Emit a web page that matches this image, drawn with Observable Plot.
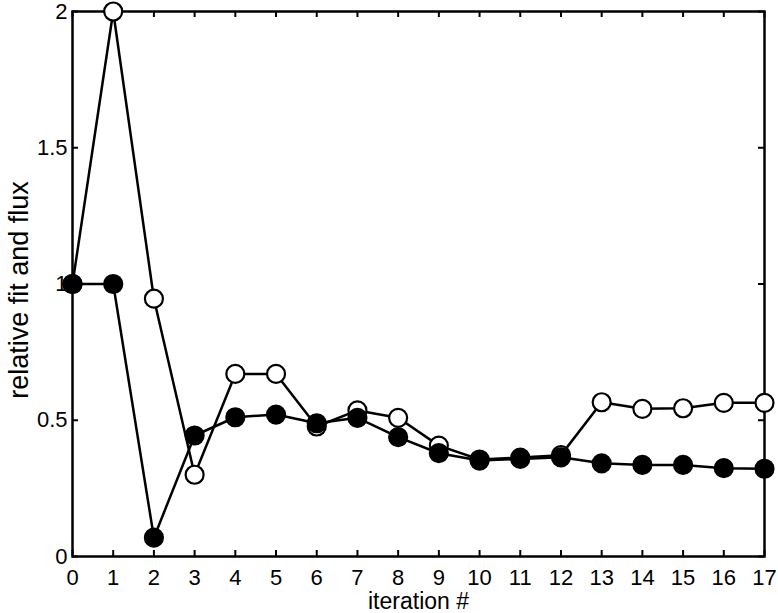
<!DOCTYPE html>
<html>
<head>
<meta charset="utf-8">
<script src="https://cdn.jsdelivr.net/npm/d3@7"></script>
<script src="https://cdn.jsdelivr.net/npm/@observablehq/plot@0.6"></script>
<style>
  html, body { margin: 0; padding: 0; background: #fff; }
  #chart { width: 778px; height: 613px; }
</style>
</head>
<body>
<div id="chart"></div>
<script>
// ---- data ----
const iterations = [0, 1, 2, 3, 4, 5, 6, 7, 8, 9, 10, 11, 12, 13, 14, 15, 16, 17];
const openSeries = [1.0, 2.0, 0.946, 0.30, 0.670, 0.670, 0.477, 0.536, 0.509, 0.407, 0.356, 0.363, 0.372, 0.566, 0.542, 0.544, 0.564, 0.564];
const filledSeries = [1.0, 1.0, 0.069, 0.444, 0.511, 0.521, 0.489, 0.509, 0.438, 0.379, 0.352, 0.358, 0.364, 0.342, 0.336, 0.336, 0.324, 0.322];
const xTicks = [0, 1, 2, 3, 4, 5, 6, 7, 8, 9, 10, 11, 12, 13, 14, 15, 16, 17];
const yTicks = [0, 0.5, 1, 1.5, 2];
const yTickLabels = ["0", "0.5", "1", "1.5", "2"];
const xLabel = "iteration #";
const yLabel = "relative fit and flux";

const openData = iterations.map((it, i) => ({x: it, y: openSeries[i]}));
const filledData = iterations.map((it, i) => ({x: it, y: filledSeries[i]}));

const W = 778, H = 613;
const mL = 72, mR = 14, mT = 11, mB = 57;
const plotW = W - mL - mR, plotH = H - mT - mB;
const tickLen = 6;

const chart = Plot.plot({
  width: W,
  height: H,
  marginLeft: mL,
  marginRight: mR,
  marginTop: mT,
  marginBottom: mB,
  style: {fontFamily: "'Liberation Sans', Arial, Helvetica, sans-serif", color: "#000", background: "#fff"},
  x: {domain: [0, 17]},
  y: {domain: [0, 2]},
  marks: [
    Plot.axisX(xTicks, {tickSize: 0, tickPadding: 13, fontSize: 22, tickFormat: d => String(d), label: null}),
    Plot.axisY(yTicks, {tickSize: 0, tickPadding: 5, fontSize: 22, tickFormat: (d, i) => yTickLabels[i], label: null}),
    // inward ticks on all four sides
    Plot.tickX(xTicks, {x: d => d, stroke: "#000", strokeWidth: 2, insetTop: plotH - tickLen}),
    Plot.tickX(xTicks, {x: d => d, stroke: "#000", strokeWidth: 2, insetBottom: plotH - tickLen}),
    Plot.tickY(yTicks, {y: d => d, stroke: "#000", strokeWidth: 2, insetRight: plotW - tickLen}),
    Plot.tickY(yTicks, {y: d => d, stroke: "#000", strokeWidth: 2, insetLeft: plotW - tickLen}),
    Plot.frame({stroke: "#000", strokeWidth: 2.5}),
    // open series
    Plot.line(openData, {x: "x", y: "y", stroke: "#000", strokeWidth: 2.5}),
    Plot.dot(openData, {x: "x", y: "y", r: 9, fill: "#fff", stroke: "#000", strokeWidth: 2.2}),
    // filled series
    Plot.line(filledData, {x: "x", y: "y", stroke: "#000", strokeWidth: 2.5}),
    Plot.dot(filledData, {x: "x", y: "y", r: 9, fill: "#000", stroke: "#000", strokeWidth: 2.2}),
    // axis titles
    Plot.text([xLabel], {text: d => d, frameAnchor: "bottom", dy: 45, lineAnchor: "middle", fontSize: 23, fill: "#000"}),
    Plot.text([yLabel], {text: d => d, frameAnchor: "left", textAnchor: "middle", dx: -53, dy: 6, rotate: -90, lineAnchor: "middle", fontSize: 27, fill: "#000"})
  ]
});

document.getElementById("chart").appendChild(chart);
</script>
</body>
</html>
